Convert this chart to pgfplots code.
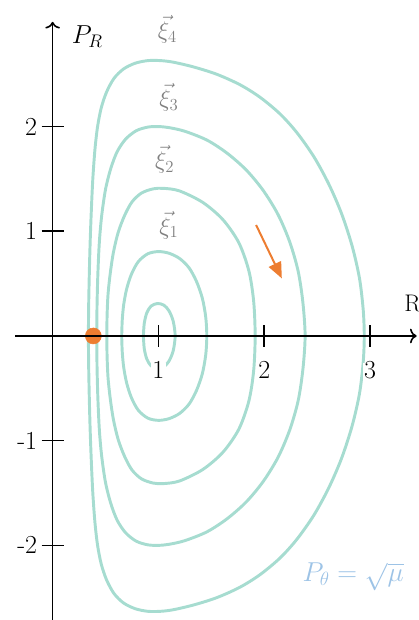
\RequirePackage{fix-cm}
\documentclass[border=0pt]{standalone}
\usepackage{pgfplots}
\pgfplotsset{compat=1.18}
\usetikzlibrary{arrows.meta}
\definecolor{curve}{RGB}{166,220,208}
\definecolor{orng}{RGB}{237,125,49}
\definecolor{lblue}{RGB}{157,195,230}
\definecolor{xigray}{RGB}{128,128,128}
\begin{document}
\begin{tikzpicture}
\begin{axis}[
 x=79.35pt, y=78.5pt,
 xmin=-0.355, xmax=3.44, ymin=-2.72, ymax=3.0,
 axis lines=middle,
 axis line style={line width=1.2pt, -{To[length=5pt,width=11pt]}},
 set layers, axis on top, clip=false,
 xtick={1,2,3}, ytick={-2,-1,1,2},
 xticklabels={1,2,3}, yticklabels={-2,-1,1,2},
 tick align=center, major tick length=16.5pt,
 tick style={line width=1.2pt, black},
 ticklabel style={font=\fontsize{19.5}{22}\selectfont, fill=white, inner sep=1pt},
 xticklabel style={text height=1.07em, yshift=-12pt},
 yticklabel style={xshift=-2.2pt},
]
\addplot[curve, line width=2.2pt, smooth] coordinates {
(0.338,0)(0.341,0.3)(0.347,0.6)(0.355,0.9)(0.366,1.2)(0.38,1.5)(0.40,1.78)(0.425,2.0)(0.46,2.18)(0.51,2.33)(0.58,2.46)(0.67,2.55)(0.78,2.605)(0.90,2.63)(1.02,2.63)(1.14,2.615)(1.33,2.57)(1.55,2.50)(1.77,2.40)(1.96,2.28)(2.15,2.12)(2.31,1.94)(2.47,1.71)(2.61,1.45)(2.73,1.17)(2.83,0.86)(2.90,0.55)(2.935,0.25)(2.945,0)
(2.935,-0.25)(2.90,-0.55)(2.83,-0.86)(2.73,-1.17)(2.61,-1.45)(2.47,-1.71)(2.31,-1.94)(2.15,-2.12)(1.96,-2.28)(1.77,-2.40)(1.55,-2.50)(1.33,-2.57)(1.14,-2.615)(1.02,-2.63)(0.90,-2.63)(0.78,-2.605)(0.67,-2.55)(0.58,-2.46)(0.51,-2.33)(0.46,-2.18)(0.425,-2.0)(0.40,-1.78)(0.38,-1.5)(0.366,-1.2)(0.355,-0.9)(0.347,-0.6)(0.341,-0.3)(0.338,0)};
\addplot[curve, line width=2.2pt, smooth] coordinates {
(0.417,0)(0.420,0.3)(0.428,0.6)(0.442,0.9)(0.464,1.15)(0.50,1.40)(0.55,1.60)(0.61,1.76)(0.69,1.88)(0.79,1.96)(0.90,1.995)(1.0,2.0)(1.10,1.99)(1.25,1.955)(1.46,1.87)(1.65,1.745)(1.83,1.585)(1.99,1.39)(2.13,1.16)(2.24,0.90)(2.32,0.62)(2.365,0.32)(2.386,0)
(2.365,-0.32)(2.32,-0.62)(2.24,-0.90)(2.13,-1.16)(1.99,-1.39)(1.83,-1.585)(1.65,-1.745)(1.46,-1.87)(1.25,-1.955)(1.10,-1.99)(1.0,-2.0)(0.90,-1.995)(0.79,-1.96)(0.69,-1.88)(0.61,-1.76)(0.55,-1.60)(0.50,-1.40)(0.464,-1.15)(0.442,-0.9)(0.428,-0.6)(0.420,-0.3)(0.417,0)};
\addplot[curve, line width=2.2pt, smooth] coordinates {
(0.512,0)(0.515,0.2)(0.524,0.4)(0.545,0.6)(0.575,0.8)(0.62,0.99)(0.68,1.15)(0.75,1.28)(0.84,1.365)(0.95,1.405)(1.05,1.41)(1.20,1.385)(1.42,1.275)(1.61,1.11)(1.76,0.89)(1.855,0.62)(1.90,0.33)(1.914,0)
(1.90,-0.33)(1.855,-0.62)(1.76,-0.89)(1.61,-1.11)(1.42,-1.275)(1.20,-1.385)(1.05,-1.41)(0.95,-1.405)(0.84,-1.365)(0.75,-1.28)(0.68,-1.15)(0.62,-0.99)(0.575,-0.8)(0.545,-0.6)(0.524,-0.4)(0.515,-0.2)(0.512,0)};
\addplot[curve, line width=2.2pt, smooth] coordinates {
(0.653,0)(0.658,0.15)(0.672,0.30)(0.70,0.45)(0.745,0.59)(0.81,0.71)(0.90,0.785)(1.0,0.806)(1.10,0.79)(1.20,0.74)(1.29,0.65)(1.36,0.52)(1.415,0.36)(1.447,0.18)(1.457,0)
(1.447,-0.18)(1.415,-0.36)(1.36,-0.52)(1.29,-0.65)(1.20,-0.74)(1.10,-0.79)(1.0,-0.806)(0.90,-0.785)(0.81,-0.71)(0.745,-0.59)(0.70,-0.45)(0.672,-0.30)(0.658,-0.15)(0.653,0)};
\addplot[curve, line width=2.2pt, smooth] coordinates {
(0.858,0)(0.866,0.12)(0.89,0.22)(0.93,0.285)(0.99,0.31)(1.05,0.295)(1.10,0.24)(1.14,0.14)(1.158,0)
(1.14,-0.14)(1.10,-0.24)(1.05,-0.295)(0.99,-0.31)(0.93,-0.285)(0.89,-0.22)(0.866,-0.12)(0.858,0)};
\addplot[orng, line width=1.5pt, -{Triangle[length=12pt,width=10pt]}] coordinates {(1.923,1.06)(2.166,0.55)};
\addplot[only marks, mark=*, mark size=6pt, orng, on layer=axis foreground] coordinates {(0.385,0)};
\node[xigray, font=\fontsize{18}{21}\selectfont] at (axis cs:1.086,2.93) {$\vec{\xi}_4$};
\node[xigray, font=\fontsize{18}{21}\selectfont] at (axis cs:1.10,2.28) {$\vec{\xi}_3$};
\node[xigray, font=\fontsize{18}{21}\selectfont] at (axis cs:1.06,1.69) {$\vec{\xi}_2$};
\node[xigray, font=\fontsize{18}{21}\selectfont] at (axis cs:1.10,1.06) {$\vec{\xi}_1$};
\node[anchor=west, inner sep=0pt, font=\fontsize{19.5}{22}\selectfont] at (axis cs:0.18,2.86) {$P_R$};
\node[font=\fontsize{18}{22}\selectfont] at (axis cs:3.40,0.31) {R};
\node[lblue, font=\fontsize{20.5}{24}\selectfont] at (axis cs:2.84,-2.30) {$P_\theta=\sqrt{\mu}$};
\coordinate (bbl) at (axis cs:-0.497,-2.713);
\coordinate (btr) at (axis cs:3.454,3.209);
\end{axis}
\pgfresetboundingbox
\useasboundingbox (bbl) rectangle (btr);
\end{tikzpicture}
\end{document}
